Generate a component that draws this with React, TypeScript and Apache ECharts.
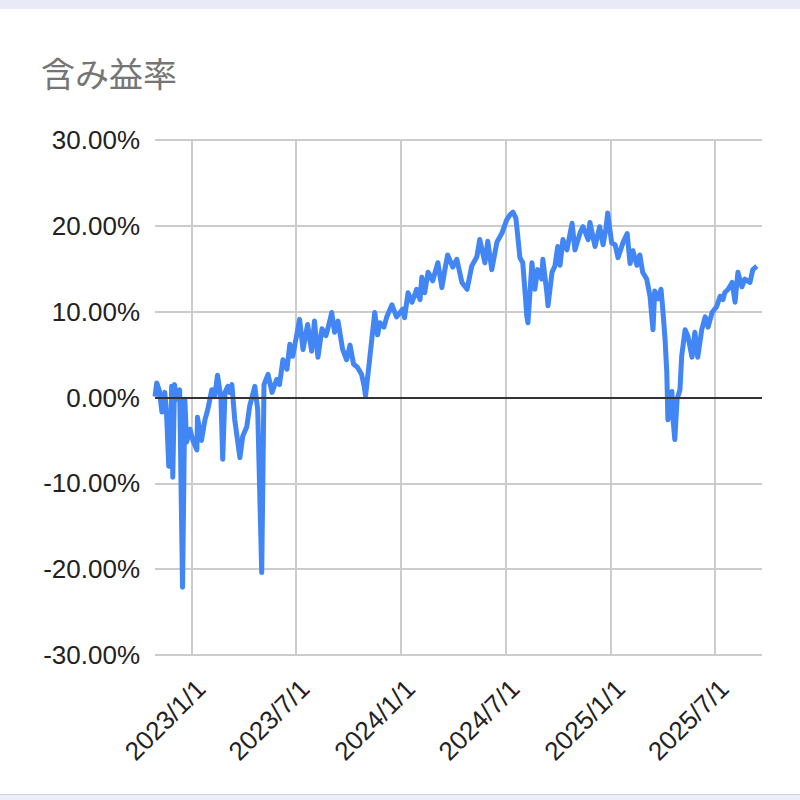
import React, { useEffect, useRef } from "react";
import * as echarts from "echarts";

const TITLE = "含み益率";

const dates: string[] = [
  "2022-10-29","2022-11-01","2022-11-06","2022-11-10","2022-11-15","2022-11-18","2022-11-22","2022-11-25","2022-11-27","2022-11-29",
  "2022-12-02","2022-12-06","2022-12-11","2022-12-16","2022-12-20","2022-12-23","2022-12-29","2023-01-03","2023-01-10","2023-01-11",
  "2023-01-18","2023-01-24","2023-01-29","2023-02-05","2023-02-10","2023-02-15","2023-02-21","2023-02-24","2023-02-28","2023-03-05",
  "2023-03-08","2023-03-12","2023-03-17","2023-03-26","2023-03-31","2023-04-07","2023-04-12","2023-04-21","2023-04-26","2023-05-03",
  "2023-05-07","2023-05-14","2023-05-21","2023-05-29","2023-06-03","2023-06-09","2023-06-16","2023-06-21","2023-06-26","2023-07-03",
  "2023-07-08","2023-07-14","2023-07-22","2023-07-29","2023-08-03","2023-08-09","2023-08-16","2023-08-23","2023-08-30","2023-09-02",
  "2023-09-07","2023-09-13","2023-09-21","2023-09-28","2023-10-04","2023-10-10","2023-10-17","2023-10-24","2023-10-28","2023-10-31",
  "2023-11-07","2023-11-16","2023-11-21","2023-11-25","2023-12-02","2023-12-07","2023-12-16","2023-12-24","2024-01-04","2024-01-07",
  "2024-01-13","2024-01-20","2024-01-28","2024-02-03","2024-02-06","2024-02-11","2024-02-17","2024-02-25","2024-03-05","2024-03-12",
  "2024-03-17","2024-03-22","2024-03-31","2024-04-07","2024-04-16","2024-04-25","2024-05-03","2024-05-12","2024-05-17","2024-05-26",
  "2024-05-31","2024-06-07","2024-06-16","2024-06-25","2024-07-03","2024-07-09","2024-07-14","2024-07-19","2024-07-22","2024-07-26",
  "2024-07-31","2024-08-05","2024-08-07","2024-08-09","2024-08-16","2024-08-21","2024-08-26","2024-09-02","2024-09-04","2024-09-11",
  "2024-09-13","2024-09-20","2024-09-25","2024-09-30","2024-10-04","2024-10-09","2024-10-16","2024-10-25","2024-10-30","2024-11-08",
  "2024-11-13","2024-11-22","2024-11-25","2024-12-04","2024-12-12","2024-12-18","2024-12-23","2024-12-26","2025-01-02","2025-01-08",
  "2025-01-13","2025-01-22","2025-01-29","2025-02-03","2025-02-08","2025-02-15","2025-02-20","2025-02-25","2025-03-04","2025-03-10",
  "2025-03-13","2025-03-15","2025-03-18","2025-03-24","2025-03-29","2025-04-01","2025-04-05","2025-04-08","2025-04-10","2025-04-14",
  "2025-04-17","2025-04-19","2025-04-22","2025-04-26","2025-05-01","2025-05-04","2025-05-10","2025-05-15","2025-05-22","2025-05-27",
  "2025-06-01","2025-06-08","2025-06-14","2025-06-19","2025-06-26","2025-07-04","2025-07-10","2025-07-15","2025-07-18","2025-07-24",
  "2025-07-31","2025-08-05","2025-08-10","2025-08-17","2025-08-22","2025-08-31","2025-09-05","2025-09-12",
];

const values: number[] = [
  0.1, 1.7, 0.7, -1.7, 0.6, -1.7, -8.0, -8.0, 1.3, -9.3,
  1.5, -0.2, 0.9, -22.1, -0.2, -5.2, -3.7, -5.0, -6.1, -2.3,
  -5.0, -2.6, -1.4, 0.9, 0.1, 2.6, -0.2, -7.2, 0.6, 1.3,
  0.6, 1.5, -2.6, -7.0, -4.5, -3.4, -1.0, 1.3, -1.4, -20.4,
  1.5, 2.7, 0.6, 2.1, 1.5, 4.4, 3.3, 6.2, 4.8, 7.3,
  9.1, 5.6, 8.5, 5.4, 8.9, 4.7, 8.0, 7.2, 9.0, 9.9,
  7.6, 8.9, 5.6, 4.4, 6.1, 3.9, 3.5, 2.7, 1.5, 0.2,
  4.4, 9.9, 7.3, 8.7, 8.2, 9.4, 10.8, 9.4, 10.3, 9.3,
  12.2, 11.1, 12.6, 11.4, 14.0, 12.2, 14.6, 13.6, 15.7, 12.8,
  14.8, 16.6, 15.2, 16.1, 13.4, 12.6, 15.3, 16.4, 18.4, 15.7,
  18.2, 14.9, 18.1, 19.2, 20.7, 21.3, 21.6, 20.9, 19.0, 16.3,
  15.7, 11.4, 9.5, 8.7, 15.7, 12.6, 14.9, 13.8, 16.1, 12.2,
  10.7, 14.6, 15.3, 17.6, 15.4, 18.4, 17.2, 20.3, 17.2, 19.2,
  19.9, 18.4, 20.4, 17.6, 19.9, 17.8, 19.7, 21.5, 18.0, 17.8,
  16.3, 18.1, 19.1, 15.6, 17.1, 15.4, 16.6, 14.6, 13.8, 11.7,
  9.3, 7.9, 12.4, 11.5, 12.6, 10.3, 6.8, 3.0, -2.6, 0.0,
  0.7, -2.6, -4.9, -0.2, 0.9, 4.8, 7.9, 7.1, 4.7, 7.6,
  4.7, 7.9, 9.4, 8.2, 9.9, 10.6, 11.8, 11.4, 12.2, 12.6,
  13.4, 11.1, 14.6, 12.9, 13.8, 13.4, 14.9, 15.3,
];

const xTickDates: string[] = ["2023-01-01", "2023-07-01", "2024-01-01", "2024-07-01", "2025-01-01", "2025-07-01"];
const xRange: string[] = ["2022-10-29", "2025-09-21"];
const yTicks: number[] = [-30, -20, -10, 0, 10, 20, 30];

function toTime(s: string): number {
  const [y, m, d] = s.split("-").map(Number);
  return Date.UTC(y, m - 1, d);
}

export default function App() {
  const ref = useRef<HTMLDivElement>(null);

  useEffect(() => {
    if (!ref.current) return;
    const chart = echarts.init(ref.current, null, { renderer: "svg", width: 800, height: 800 });
    const tickTimes = xTickDates.map(toTime);
    const series = dates.map((d, i) => [toTime(d), values[i]]);
    const labelFont = "'Liberation Sans', Arial, sans-serif";
    chart.setOption({
      animation: false,
      backgroundColor: "transparent",
      title: {
        text: TITLE,
        left: 36,
        top: 50,
        textStyle: {
          fontFamily: "'Noto Sans CJK JP', sans-serif",
          fontSize: 34,
          fontWeight: "normal",
          color: "#757575",
        },
      },
      grid: { left: 155, right: 38, top: 140, bottom: 145, containLabel: false },
      xAxis: {
        type: "value",
        min: toTime(xRange[0]),
        max: toTime(xRange[1]),
        axisLine: { show: false },
        axisTick: { show: false, customValues: tickTimes },
        axisLabel: {
          customValues: tickTimes,
          rotate: 45,
          margin: 20,
          verticalAlign: "top",
          fontSize: 26,
          fontFamily: labelFont,
          color: "#222",
          formatter: (v: number) => {
            const d = new Date(v);
            return `${d.getUTCFullYear()}/${d.getUTCMonth() + 1}/${d.getUTCDate()}`;
          },
        },
        splitLine: { show: true, lineStyle: { color: "#cccccc", width: 2 } },
      },
      yAxis: {
        type: "value",
        min: yTicks[0],
        max: yTicks[yTicks.length - 1],
        interval: 10,
        axisLine: { show: false },
        axisTick: { show: false },
        axisLabel: {
          margin: 15,
          fontSize: 26,
          fontFamily: labelFont,
          color: "#222",
          formatter: (v: number) => `${v.toFixed(2)}%`,
        },
        splitLine: { show: true, lineStyle: { color: "#cccccc", width: 2 } },
      },
      series: [
        {
          type: "line",
          data: series,
          showSymbol: false,
          symbol: "none",
          lineStyle: { color: "#4285F4", width: 5, join: "round" },
          markLine: {
            silent: true,
            symbol: "none",
            label: { show: false },
            lineStyle: { color: "#333333", width: 2, type: "solid" },
            data: [{ yAxis: 0 }],
          },
          z: 3,
        },
      ],
    });
    return () => chart.dispose();
  }, []);

  return (
    <div style={{ position: "fixed", left: 0, top: 0, width: 800, height: 800, background: "#ffffff", overflow: "hidden" }}>
      <div style={{ position: "absolute", left: 0, top: 0, width: 800, height: 9, background: "#e8eaf6" }} />
      <div style={{ position: "absolute", left: 0, top: 794, width: 800, height: 6, background: "#eceef8", borderTop: "1px solid #c9cde2", boxSizing: "border-box" }} />
      <div ref={ref} style={{ position: "absolute", left: 0, top: 0, width: 800, height: 800 }} />
    </div>
  );
}
